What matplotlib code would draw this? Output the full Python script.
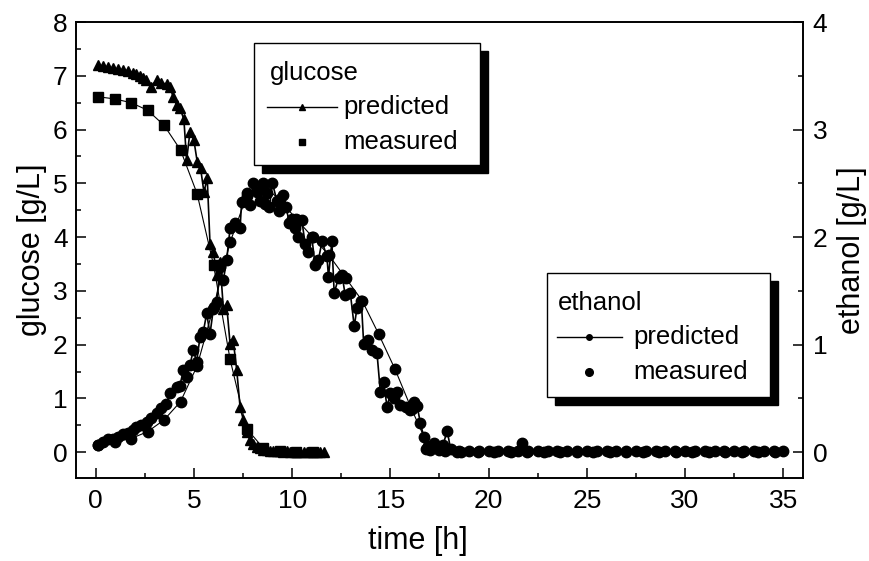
import matplotlib
matplotlib.use("Agg")
import matplotlib.pyplot as plt
from matplotlib.patches import Rectangle
from matplotlib.lines import Line2D
from matplotlib.ticker import MultipleLocator

plt.rcParams['font.family'] = ['Liberation Sans', 'DejaVu Sans']

# glucose, dense series (triangles)
glc_t = [0.12, 0.37, 0.63, 0.88, 1.14, 1.39, 1.65, 1.90, 2.07, 2.24, 2.41, 2.58,
         2.81, 3.10, 3.35, 3.64, 3.78, 3.94, 4.12, 4.29, 4.49, 4.63, 4.80, 5.00,
         5.17, 5.34, 5.51, 5.68, 5.82, 5.99, 6.16, 6.33, 6.50, 6.67, 6.84, 7.00,
         7.18, 7.35, 7.52, 7.69, 7.86, 8.03, 8.20, 8.37, 8.54, 8.71, 8.88, 9.05,
         9.22, 9.39, 9.56, 9.73, 9.90, 10.07, 10.24, 10.41, 10.58, 10.75, 10.92,
         11.09, 11.26, 11.43, 11.60]
glc_tri = [7.20, 7.18, 7.16, 7.14, 7.12, 7.11, 7.09, 7.06, 7.03, 7.00, 6.95, 6.93,
           6.80, 6.92, 6.86, 6.85, 6.80, 6.61, 6.46, 6.40, 6.19, 5.43, 5.96, 5.80,
           5.40, 5.28, 4.84, 5.09, 3.88, 3.73, 3.30, 3.54, 2.67, 2.73, 2.02, 2.08,
           1.53, 0.84, 0.60, 0.38, 0.22, 0.15, 0.10, 0.07, 0.05, 0.04, 0.03, 0.03,
           0.02, 0.02, 0.01, 0.02, 0.01, 0.01, 0.0, 0.01, 0.0, 0.01, 0.0,
           0.0, 0.01, 0.0, 0.0]

# glucose, sparse series (squares)
sq_t = [0.12, 0.96, 1.80, 2.64, 3.48, 4.32, 5.16, 6.00, 6.84, 7.68, 8.52, 9.36,
        10.20, 11.04]
glc_sq = [6.61, 6.57, 6.50, 6.36, 6.08, 5.62, 4.81, 3.48, 1.73, 0.44, 0.08, 0.02,
          0.01, 0.0]

# ethanol, dense series
eth_t = [0.12, 0.37, 0.63, 0.88, 1.14, 1.39, 1.65, 1.90, 2.07, 2.33, 2.59, 2.84,
         3.10, 3.35, 3.60, 3.78, 4.12, 4.29, 4.46, 4.63, 4.80, 4.97, 5.14, 5.31,
         5.48, 5.65, 5.82, 5.99, 6.16, 6.33, 6.50, 6.67, 6.84, 7.09, 7.35, 7.43,
         7.69, 7.86, 8.03, 8.20, 8.35, 8.50, 8.62, 8.71, 8.84, 9.00, 9.22, 9.34,
         9.52, 9.69, 9.86, 9.98, 10.15, 10.32, 10.49, 10.66, 10.83, 11.00, 11.17,
         11.34, 11.52, 11.77, 11.85, 12.02, 12.14, 12.36, 12.54, 12.70, 12.96,
         13.16, 13.30, 13.52, 13.64, 13.84, 14.07, 14.32, 14.49, 14.66, 14.83,
         15.00, 15.17, 15.34, 15.50, 15.77, 16.02, 16.19, 16.36, 16.53, 16.70,
         16.79, 17.00, 17.21, 17.47, 17.68, 17.89, 18.06, 18.40,
         18.5, 19.0, 19.5, 20.0, 20.5, 21.0, 21.5, 21.7, 22.0, 22.5, 23.0, 23.5,
         24.0, 24.5, 25.0, 25.5, 26.0, 26.5, 27.0, 27.5, 28.0, 28.5, 29.0, 29.5,
         30.0, 30.5, 31.0, 31.5, 32.0, 32.5, 33.0, 33.5, 34.0, 34.5, 35.0]
eth_dense = [0.065, 0.096, 0.118, 0.127, 0.143, 0.167, 0.18, 0.21, 0.235, 0.25, 0.28, 0.32,
             0.36, 0.41, 0.45, 0.55, 0.61, 0.62, 0.76, 0.70, 0.81, 0.95, 0.84, 1.07,
             1.12, 1.29, 1.10, 1.33, 1.40, 1.72, 1.60, 1.79, 2.08, 2.13, 2.08, 2.33,
             2.41, 2.30, 2.50, 2.42, 2.34, 2.50, 2.31, 2.41, 2.28, 2.50, 2.34, 2.24,
             2.39, 2.28, 2.13, 2.17, 2.08, 2.00, 2.16, 1.94, 1.86, 2.00, 1.74,
             1.79, 1.96, 1.82, 1.63, 1.96, 1.48, 1.62, 1.65, 1.46, 1.48,
             1.17, 1.34, 1.41, 1.01, 1.04, 0.95, 0.92, 0.56, 0.65, 0.42,
             0.55, 0.50, 0.56, 0.44, 0.42, 0.39, 0.47, 0.43, 0.27, 0.14,
             0.034, 0.02, 0.087, 0.025, 0.065, 0.20, 0.034, 0.005,
             0.01, 0.01, 0.01, 0.01, 0.01, 0.01, 0.01, 0.087, 0.01, 0.01, 0.01, 0.01,
             0.01, 0.01, 0.01, 0.01, 0.01, 0.01, 0.01, 0.01, 0.01, 0.01, 0.01, 0.01,
             0.01, 0.01, 0.01, 0.01, 0.01, 0.01, 0.01, 0.01, 0.01, 0.01, 0.01]

# ethanol, sparse series on the smooth curve
eth_st = [0.12, 0.96, 1.80, 2.64, 3.48, 4.32, 5.16, 6.00, 6.84, 7.68, 8.52, 9.36,
          10.20, 11.04, 11.88, 12.72, 13.56, 14.40, 15.24, 16.08, 16.92, 17.76,
          18.60, 19.44, 20.28, 21.12, 21.96, 22.80, 23.64, 24.48, 25.32, 26.16,
          27.00, 27.84, 28.68, 29.52, 30.36, 31.20, 32.04, 32.88, 33.72, 34.56]
eth_sparse = [0.065, 0.096, 0.127, 0.19, 0.30, 0.47, 0.80, 1.35, 1.95, 2.38, 2.48, 2.35,
              2.17, 2.00, 1.83, 1.62, 1.41, 1.10, 0.77, 0.40, 0.06, 0.01,
              0.0, 0.0, 0.0, 0.0, 0.0, 0.0, 0.0, 0.0, 0.0, 0.0,
              0.0, 0.0, 0.0, 0.0, 0.0, 0.0, 0.0, 0.0, 0.0, 0.0]

W, H = 870, 561
fig = plt.figure(figsize=(W / 100, H / 100), dpi=100)
ax = fig.add_axes([76 / W, 1 - 478 / H, 727 / W, 456 / H])
ax2 = ax.twinx()

ax.plot(glc_t, glc_tri, '-', color='black', lw=1.2, marker='^', ms=7)
ax.plot(sq_t, glc_sq, '-', color='black', lw=0.8, marker='s', ms=6.5)
ax2.plot(eth_st, eth_sparse, '-', color='black', lw=0.8, marker='o', ms=7.5)
ax2.plot(eth_t, eth_dense, '-', color='black', lw=1.2, marker='o', ms=7.5)

ax.set_xlim(-1, 36)
ax.set_ylim(-0.48, 8)
ax2.set_ylim(-0.24, 4)

ax.xaxis.set_major_locator(MultipleLocator(5))
ax.xaxis.set_minor_locator(MultipleLocator(2.5))
ax.yaxis.set_major_locator(MultipleLocator(1))
ax.yaxis.set_minor_locator(MultipleLocator(0.5))
ax2.yaxis.set_major_locator(MultipleLocator(1))
ax2.yaxis.set_minor_locator(MultipleLocator(0.5))

for a in (ax, ax2):
    for s in a.spines.values():
        s.set_linewidth(1.2)
    a.tick_params(which='major', direction='in', length=7, width=1.1, labelsize=19)
    a.tick_params(which='minor', direction='in', length=3.5, width=1.1)
ax.tick_params(axis='y', which='both', right=False, pad=6)
ax.tick_params(axis='x', which='both', top=False, pad=8)
ax2.tick_params(axis='y', which='both', pad=7)

fig.text(32 / W, 1 - 250 / H, 'glucose [g/L]', rotation=90, ha='center', va='center', fontsize=22)
fig.text(852 / W, 1 - 250 / H, 'ethanol [g/L]', rotation=90, ha='center', va='center', fontsize=22)
fig.text(418 / W, 1 - 541 / H, 'time [h]', ha='center', va='center', fontsize=22)


def px(x, y):
    return x / W, 1 - y / H


def legend_box(x0, y0, x1, y1, title, mk_line, mk_meas, ms_meas, lx0, lx1, tx):
    sh = 8
    fig.add_artist(Rectangle(px(x0 + sh, y1 + sh), (x1 - x0) / W, (y1 - y0) / H,
                             transform=fig.transFigure, facecolor='black',
                             edgecolor='black', zorder=10))
    fig.add_artist(Rectangle(px(x0, y1), (x1 - x0) / W, (y1 - y0) / H,
                             transform=fig.transFigure, facecolor='white',
                             edgecolor='black', lw=1.0, zorder=11))
    fig.text(*px(tx[0], y0 + 30), title, fontsize=18.5, ha='left', va='center', zorder=12)
    mx = (lx0 + lx1) / 2
    fig.add_artist(Line2D([lx0 / W, lx1 / W], [1 - (y0 + 64) / H] * 2,
                          transform=fig.transFigure, color='black', lw=1.0,
                          marker=None, zorder=12))
    fig.add_artist(Line2D([mx / W], [1 - (y0 + 64) / H], transform=fig.transFigure,
                          color='black', marker=mk_line, ms=4, lw=0, zorder=12))
    fig.add_artist(Line2D([mx / W], [1 - (y0 + 99) / H], transform=fig.transFigure,
                          color='black', marker=mk_meas, ms=ms_meas, lw=0, zorder=12))
    fig.text(*px(tx[1], y0 + 64), 'predicted', fontsize=18.5, ha='left', va='center', zorder=12)
    fig.text(*px(tx[1], y0 + 99), 'measured', fontsize=18.5, ha='left', va='center', zorder=12)


legend_box(254, 43, 480, 165, 'glucose', '^', 's', 5, 267, 337, (270, 343))
legend_box(547, 273, 770, 397, 'ethanol', 'o', 'o', 5.5, 557, 622, (558, 633))

fig.savefig('out.png', dpi=100)
